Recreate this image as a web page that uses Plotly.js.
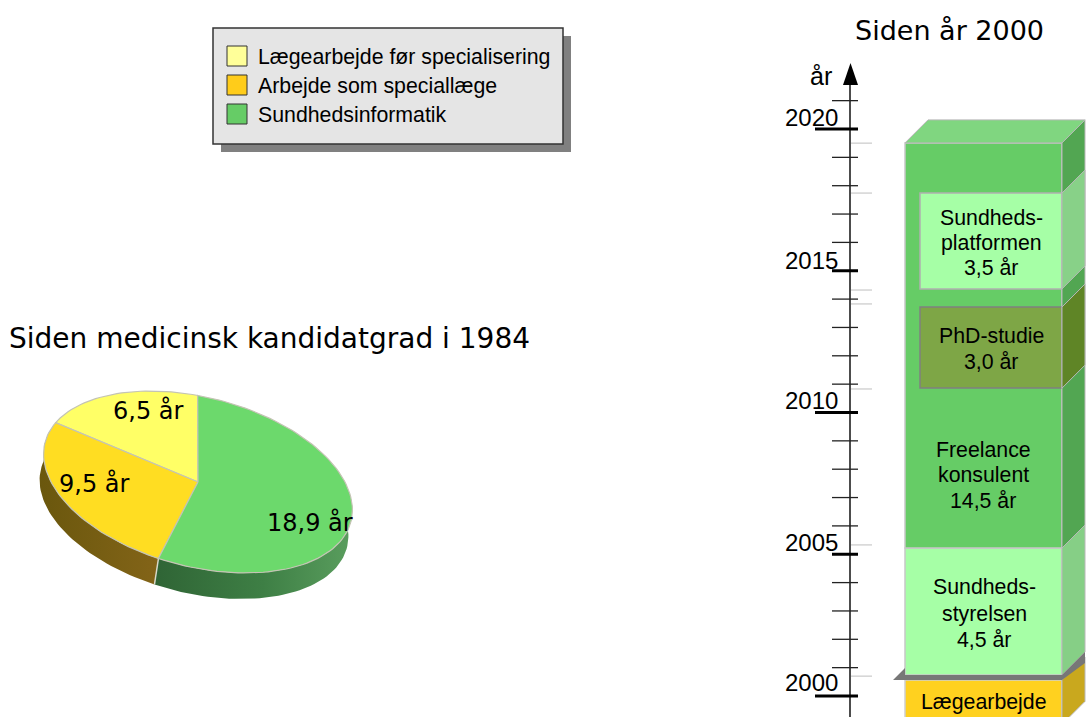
<!DOCTYPE html>
<html>
<head>
<meta charset="utf-8">
<script src="https://cdn.plot.ly/plotly-3.0.1.min.js"></script>
<style>html,body{margin:0;padding:0;background:#fff}#c{width:1087px;height:717px}</style>
</head>
<body>
<div id="c"></div>
<script>
// ---- data ----
const pieLabels = ["6,5 år", "9,5 år", "18,9 år"];
const pieValues = [6.5, 9.5, 18.9];
const legendLabels = ["Lægearbejde før specialisering", "Arbejde som speciallæge", "Sundhedsinformatik"];
const barNames = ["Lægearbejde", "Sundhedsstyrelsen", "Sundhedsinformatik", "PhD-studie", "Sundhedsplatformen"];
const barStarts = [1999, 2000.74, 2005.22, 2010.86, 2014.36];
const barDurations = [1.56, 4.48, 14.29, 2.86, 3.38];
const axisYears = [2000,2001,2002,2003,2004,2005,2006,2007,2008,2009,2010,2011,2012,2013,2014,2015,2016,2017,2018,2019,2020,2021];
const yearLabels = [2000, 2005, 2010, 2015, 2020];
const faintYears = [2000.7, 2005.33, 2010.83, 2013.83, 2014.32, 2017.74, 2019.5];
const barTextLines = [["Lægearbejde"],["Sundheds-","styrelsen","4,5 år"],["Freelance","konsulent","14,5 år"],["PhD-studie","3,0 år"],["Sundheds-","platformen","3,5 år"]];

// ---- layout constants (pixels of the page) ----
const W = 1087, H = 717;
const Y2000 = 696, PX_PER_YEAR = 28.35;
const yearAt = p => 2000 + (Y2000 - p) / PX_PER_YEAR;
const yr = [yearAt(H), yearAt(0)];
const wideL = 905, narrowL = 920, R = 1062, DEPTH = 23, DY = DEPTH / PX_PER_YEAR;
const barLeft = [wideL, wideL, wideL, narrowL, narrowL];
const barFront = ["#FFD11F", "#A6FFA6", "#66CC66", "#7EA646", "#A6FFA6"];
const barSide = ["#C9A81E", "#86CF86", "#52A652", "#5F8526", "#88D188"];
const barLine = ["#D0D0D0", "#C8C8C8", "#C8C8C8", "#808080", "#B0B0B0"];
const textX = [984, 984, 983, 991, 991];
const textY = [[702],[587,614,640],[450,475,501],[336,362],[218,243,268]];
const yearLabelShift = [14, 12, 12, 10, 12];

const traces = [];
// bars
barNames.forEach((n, i) => {
  traces.push({type:"bar", name:n, x:[(barLeft[i] + R) / 2], width:[R - barLeft[i]], base:[barStarts[i]], y:[barDurations[i]],
    xaxis:"x", yaxis:"y", marker:{color:barFront[i], line:{color:barLine[i], width:1.5}}, hoverinfo:"skip"});
});
// shelf between the first two bars
const shelfBot = barStarts[0] + barDurations[0], shelfTop = barStarts[1];
function poly(xs, ys, color, yaxis, line) {
  return {type:"scatter", mode:"lines", x:xs, y:ys, fill:"toself", fillcolor:color, xaxis:"x", yaxis:yaxis||"y",
    line: line || {width:0, color:color}, hoverinfo:"skip", showlegend:false};
}
// side faces, then the top face
const order = [0, 1, 2, 3, 4];
order.forEach(i => {
  const s = barStarts[i], e = s + barDurations[i];
  traces.push(poly([R, R + DEPTH, R + DEPTH, R, R], [s, s + DY, e + DY, e, s], barSide[i], "y", {width:1, color:"#B8B8B8"}));
});
const topE = barStarts[2] + barDurations[2];
traces.push(poly([wideL, wideL + DEPTH, R + DEPTH, R, wideL], [topE, topE + DY, topE + DY, topE, topE], "#80D680", "y", {width:1, color:"#B8B8B8"}));
traces.push(poly([893, wideL, wideL, R, R + DEPTH, R + DEPTH, R, 893],
  [shelfBot, shelfBot + 12 / PX_PER_YEAR, shelfTop, shelfTop, shelfTop + DY, shelfBot + 17 / PX_PER_YEAR, shelfBot, shelfBot], "#777777"));
// faint guide lines
const fx = [], fy = [];
faintYears.forEach(y => { fx.push(851, 872, null); fy.push(y, y, null); });
traces.push({type:"scatter", mode:"lines", x:fx, y:fy, line:{color:"#D4D4D4", width:1.5}, xaxis:"x", yaxis:"y", hoverinfo:"skip"});
// time axis
traces.push({type:"scatter", mode:"lines", x:[850, 850], y:[yr[0], yearAt(85)], line:{color:"#000", width:1.4}, xaxis:"x", yaxis:"y", hoverinfo:"skip"});
const mx = [], my = [];
axisYears.filter(y => y % 5 !== 0).forEach(y => { mx.push(832, 858, null); my.push(y, y, null); });
traces.push({type:"scatter", mode:"lines", x:mx, y:my, line:{color:"#222", width:1.3}, xaxis:"x", yaxis:"y", hoverinfo:"skip"});
const Mx = [], My = [];
axisYears.filter(y => y % 5 === 0).forEach(y => { Mx.push(y % 10 === 0 ? 815 : 832, 858, null); My.push(y, y, null); });
traces.push({type:"scatter", mode:"lines", x:Mx, y:My, line:{color:"#000", width:3}, xaxis:"x", yaxis:"y", hoverinfo:"skip"});

// ---- pie, tilted ellipse drawn from the values ----
const CX = 198, CY = 482, A = 158, B = 84.6, TH = 14.5 * Math.PI / 180;
const WX = -4, WY = 26;
const D = Math.PI / 180;
function ePt(t, dx, dy) {
  const u = A * Math.cos(t * D), v = B * Math.sin(t * D);
  return [CX + u * Math.cos(TH) - v * Math.sin(TH) + (dx || 0), CY + u * Math.sin(TH) + v * Math.cos(TH) + (dy || 0)];
}
function arc(t0, t1, dx, dy) {
  const out = [], n = Math.max(2, Math.ceil(Math.abs(t1 - t0) / 2));
  for (let k = 0; k <= n; k++) out.push(ePt(t0 + (t1 - t0) * k / n, dx, dy));
  return out;
}
const total = pieValues.reduce((a, b) => a + b, 0);
const START = -98; // angle on the ellipse of the top edge of the first slice
const angles = [START];
pieValues.forEach(v => angles.push(angles[angles.length - 1] - v * 360 / total));
const pieColors = ["#FFFF66", "#FFDD22", "#6CD96C"];

// wall: angles run decreasing; visible part is t in [-15, 185]
const split = angles[2] + 360; // gold / green boundary on the front
function wall(t0, t1, scale) {
  const top = arc(t0, t1), bot = arc(t1, t0, WX, WY), pts = top.concat(bot);
  pts.push(top[0]);
  return {type:"scatter", mode:"lines", x:pts.map(p => p[0]), y:pts.map(p => p[1]), xaxis:"x", yaxis:"y2", fill:"toself",
    fillgradient:{type:"horizontal", colorscale:scale}, line:{width:0, color:scale[0][1]}, hoverinfo:"skip"};
}
traces.push(wall(185, split, [[0, "#6A570D"], [1, "#836418"]]));
traces.push(wall(split, -15, [[0, "#2F6435"], [0.55, "#3E7F45"], [1, "#5A9E5E"]]));
// divider on the wall
const d0 = ePt(split), d1 = ePt(split, WX, WY);
traces.push({type:"scatter", mode:"lines", x:[d0[0], d1[0]], y:[d0[1], d1[1]], xaxis:"x", yaxis:"y2", line:{color:"#D8D8C8", width:1.5}, hoverinfo:"skip"});
// slices
pieValues.forEach((v, i) => {
  const pts = [[CX, CY]].concat(arc(angles[i], angles[i + 1])).concat([[CX, CY]]);
  traces.push({type:"scatter", mode:"lines", name:pieLabels[i], x:pts.map(p => p[0]), y:pts.map(p => p[1]), xaxis:"x", yaxis:"y2", fill:"toself",
    fillcolor:pieColors[i], line:{color:"#C4C4B4", width:1.2}, hoverinfo:"skip"});
});
// axis arrow
traces.push(poly([843, 850.5, 858, 843], [85, 63, 85, 85], "#000", "y2"));
// legend swatches
const swatchColors = ["#FFFF99", "#FFCC1A", "#66CC66"];
const legendRowY = [56, 85, 114];
traces.push({type:"scatter", mode:"markers", x:[237, 237, 237], y:legendRowY, xaxis:"x", yaxis:"y2",
  marker:{symbol:"square", size:20, color:swatchColors, line:{color:"#333", width:1}}, hoverinfo:"skip"});

// ---- texts ----
const SANS = "Liberation Sans, Arial, sans-serif", DJV = "DejaVu Sans, Verdana, sans-serif";
const ann = [];
function txt(t, x, y, size, family, anchor, yref, yshift) {
  ann.push({text:t, x:x, y:y, xref:"x", yref:yref || "y2", xanchor:anchor || "center", yanchor:"middle", yshift:yshift || 0,
    showarrow:false, font:{family:family, size:size, color:"#000"}});
}
txt("Siden medicinsk kandidatgrad i 1984", 7, 338, 28, DJV, "left");
txt("Siden år 2000", 949, 30, 27, DJV);
txt(pieLabels[0], 148, 410, 24, DJV);
txt(pieLabels[1], 94, 483, 24, DJV);
txt(pieLabels[2], 310, 522, 24, DJV);
legendLabels.forEach((l, i) => txt(l, 256, legendRowY[i] + 1, 21.3, SANS, "left"));
txt("år", 821, 76, 25, SANS);
yearLabels.forEach((y, i) => txt(String(y), 811, y, 24, SANS, "center", "y", yearLabelShift[i]));
barTextLines.forEach((lines, i) => lines.forEach((l, j) => txt(l, textX[i], textY[i][j], 21.3, SANS)));

// ---- legend box as shapes ----
const box = (x0, y0, x1, y1, fill, line) => ({type:"rect", xref:"x", yref:"y2", x0, y0, x1, y1, fillcolor:fill, line, layer:"below"});
const shapes = [
  box(221, 36, 571, 152, "#808080", {width:0}),
  box(213, 28, 563, 144, "#E5E5E5", {color:"#333", width:1.5})
];

const layout = {
  width:W, height:H, margin:{l:0, r:0, t:0, b:0, pad:0}, paper_bgcolor:"#fff", plot_bgcolor:"rgba(0,0,0,0)",
  showlegend:false, barmode:"overlay", hovermode:false,
  xaxis:{range:[0, W], visible:false, fixedrange:true},
  yaxis:{range:yr, visible:false, fixedrange:true},
  yaxis2:{range:[H, 0], visible:false, fixedrange:true, overlaying:"y", anchor:"x"},
  annotations:ann, shapes:shapes
};
Plotly.newPlot("c", traces, layout, {displayModeBar:false, staticPlot:true});
</script>
</body>
</html>
